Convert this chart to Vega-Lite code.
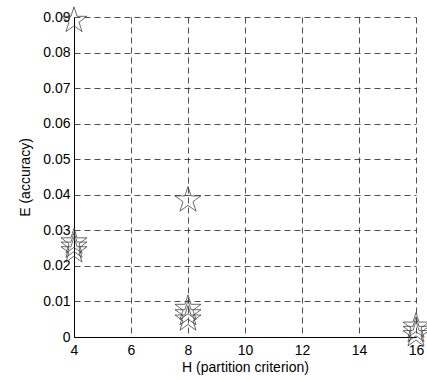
{
  "$schema": "https://vega.github.io/schema/vega-lite/v6.json",
  "width": 342,
  "height": 320,
  "autosize": {"type": "none"},
  "padding": {"left": 74, "top": 17, "right": 11, "bottom": 43},
  "background": "white",
  "config": {
    "view": {"stroke": null},
    "axis": {
      "labelFont": "Liberation Sans",
      "titleFont": "Liberation Sans",
      "labelFontSize": 14,
      "titleFontSize": 14,
      "titleFontWeight": "normal",
      "labelColor": "#000",
      "titleColor": "#000",
      "domainColor": "#000",
      "domainWidth": 1,
      "gridColor": "#222",
      "gridDash": [6, 4],
      "gridWidth": 0.8,
      "gridOpacity": 1,
      "ticks": false
    }
  },
  "data": {
    "values": [
      {"H": 4, "E": 0.089},
      {"H": 4, "E": 0.0267},
      {"H": 4, "E": 0.0255},
      {"H": 4, "E": 0.0242},
      {"H": 8, "E": 0.0385},
      {"H": 8, "E": 0.008},
      {"H": 8, "E": 0.0065},
      {"H": 8, "E": 0.005},
      {"H": 16, "E": 0.003},
      {"H": 16, "E": 0.0018},
      {"H": 16, "E": 0.0006}
    ]
  },
  "mark": {
    "type": "point",
    "shape": "M0,-1L0.2245,-0.309L0.951,-0.309L0.363,0.118L0.588,0.809L0,0.382L-0.588,0.809L-0.363,0.118L-0.951,-0.309L-0.2245,-0.309Z",
    "size": 750,
    "filled": false,
    "stroke": "#444",
    "strokeWidth": 0.8,
    "opacity": 1,
    "clip": false
  },
  "encoding": {
    "x": {
      "field": "H",
      "type": "quantitative",
      "scale": {"domain": [4, 16], "nice": false, "zero": false},
      "axis": {"values": [4, 6, 8, 10, 12, 14, 16], "title": "H (partition criterion)", "labelPadding": 6, "titlePadding": 3, "labelFlush": false}
    },
    "y": {
      "field": "E",
      "type": "quantitative",
      "scale": {"domain": [0, 0.09], "nice": false},
      "axis": {"values": [0, 0.01, 0.02, 0.03, 0.04, 0.05, 0.06, 0.07, 0.08, 0.09], "format": ".2~f", "title": "E (accuracy)", "labelPadding": 4, "titlePadding": 10, "labelFlush": false}
    }
  }
}
